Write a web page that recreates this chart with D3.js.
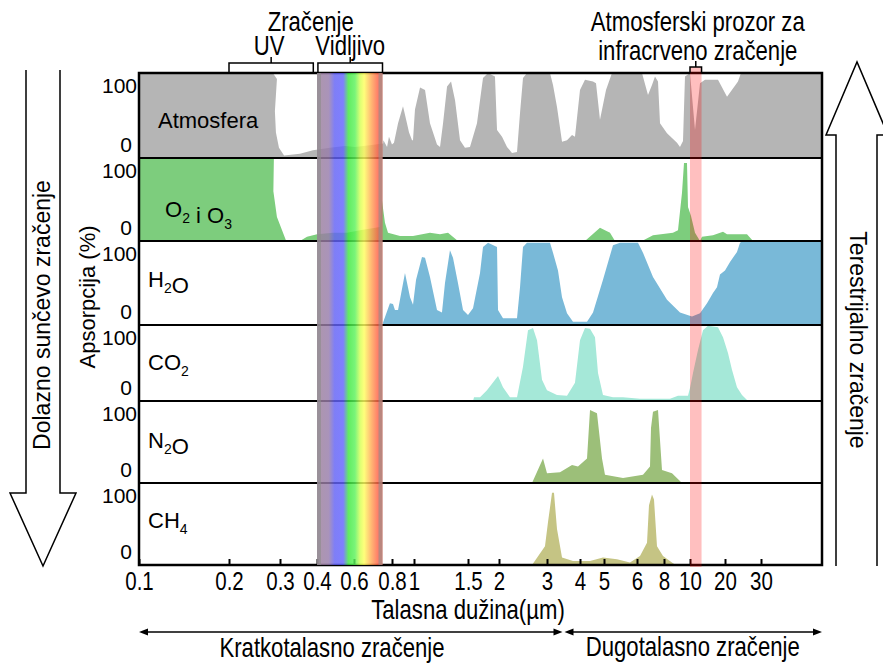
<!DOCTYPE html>
<html lang="sr">
<head>
<meta charset="utf-8">
<title>Apsorpcija zračenja u atmosferi</title>
<script src="https://cdn.jsdelivr.net/npm/d3@7"></script>
<style>
body { margin: 0; background: #fff; }
svg text { font-family: "Liberation Sans", Arial, sans-serif; fill: #000; }
</style>
</head>
<body>
<script>
// x axis ticks (wavelength, µm)
var tickValues = [0.1, 0.2, 0.3, 0.4, 0.6, 0.8, 1, 1.5, 2, 3, 4, 5, 6, 8, 10, 20, 30];
var tickLabels = ["0.1", "0.2", "0.3", "0.4", "0.6", "0.8", "1", "1.5", "2", "3", "4", "5", "6", "8", "10", "20", "30"];
var axisEnd = 70;

// panels (names, "_" marks a subscript digit)
var gasNames = ["Atmosfera", "O_2 i O_3", "H_2O", "CO_2", "N_2O", "CH_4"];
var gasColors = ["#b5b5b5", "#7dcd7d", "#79b9d8", "#a5e8d8", "#9cbf79", "#c5c484"];

// absorption (%) vs wavelength (µm)
var atmosferaWl = [0.1, 0.286, 0.294, 0.29, 0.292, 0.298, 0.311, 0.354, 0.389, 0.47, 0.551, 0.605, 0.684, 0.753,
  0.755, 0.774, 0.784, 0.8, 0.818, 0.855, 0.9, 0.936, 0.955, 0.982, 0.991, 1.009, 1.056, 1.102, 1.148, 1.213,
  1.241, 1.269, 1.306, 1.343, 1.38, 1.426, 1.472, 1.532, 1.645, 1.694, 1.742, 1.823, 1.935, 1.968, 2.063, 2.167,
  2.271, 2.375, 2.438, 2.5, 2.583, 3.091, 3.182, 3.303, 3.455, 3.606, 3.758, 3.848, 4.0, 4.208, 4.542, 4.667,
  4.833, 5.061, 5.242, 6.222, 6.37, 6.815, 7.111, 7.333, 7.556, 7.704, 8.231, 9.0, 9.231, 9.462, 9.615, 10.0,
  11.43, 12.86, 14.29, 18.0, 20.56, 23.61, 24.44, 70];
var atmosferaAbs = [100, 100, 93, 55, 30, 12, 3, 5, 9, 12, 14, 13, 15, 17,
  21, 13, 25, 16, 18, 41, 61, 41, 30, 21, 21, 57, 83, 80, 41, 16,
  13, 41, 84, 90, 68, 21, 12, 13, 41, 68, 94, 100, 96, 33, 25, 13,
  6, 7, 53, 94, 100, 100, 86, 60, 19, 21, 27, 25, 80, 92, 90, 88,
  45, 80, 100, 100, 100, 74, 86, 96, 90, 41, 29, 18, 13, 20, 96, 100,
  33, 88, 92, 92, 72, 90, 100, 100];

var oksigenWl = [0.1, 0.288, 0.287, 0.294, 0.316, 0.354, 0.373, 0.4, 0.486, 0.562, 0.632, 0.737, 0.747, 0.763,
  0.779, 0.873, 0.991, 1.148, 1.241, 1.315, 1.407, 4.208, 4.833, 5.182, 5.333, 6.37, 7.185, 8.692, 9.077,
  9.385, 9.538, 9.769, 9.846, 10.29, 11.43, 12.86, 13.43, 16.57, 19.43, 20.56, 26.11, 27.78];
var oksigenAbs = [100, 100, 60, 29, 1, 0, 5, 8, 10, 10, 13, 17, 49, 22,
  10, 6, 6, 10, 8, 10, 0, 0, 16, 10, 0, 0, 7, 10, 13,
  58, 94, 94, 41, 30, 10, 0, 5, 7, 11, 8, 8, 0];

var vodaWl = [0.753, 0.789, 0.809, 0.827, 0.855, 0.918, 0.964, 0.982, 0.991, 1.019, 1.074, 1.102, 1.148, 1.213,
  1.259, 1.287, 1.333, 1.361, 1.407, 1.454, 1.5, 1.581, 1.694, 1.742, 1.823, 1.968, 1.984, 2.083, 2.375, 2.438,
  2.5, 2.583, 3.091, 3.182, 3.333, 3.455, 3.606, 3.788, 4.292, 4.542, 4.958, 5.273, 5.485, 6.074, 6.444, 7.185,
  8.231, 9.231, 10.57, 12.86, 14.86, 16.57, 17.71, 18.57, 20.0, 21.39, 23.33, 24.17, 25.0, 70];
var vodaAbs = [3, 26, 25, 18, 18, 62, 33, 27, 24, 54, 81, 80, 57, 18,
  15, 50, 89, 80, 50, 18, 12, 20, 62, 93, 98, 93, 18, 8, 8, 45,
  93, 98, 98, 86, 65, 33, 14, 4, 4, 15, 54, 95, 98, 98, 86, 57,
  30, 15, 10, 14, 26, 38, 45, 60, 65, 75, 87, 98, 100, 100];

var ugljenDioksidWl = [1.581, 1.597, 1.694, 1.806, 1.984, 2.083, 2.229, 2.375, 2.5, 2.604, 2.708, 2.792, 2.896,
  3.0, 3.303, 3.606, 3.848, 4.0, 4.208, 4.417, 4.625, 4.75, 4.958, 5.273, 5.576, 6.222, 8.462, 9.077, 9.846,
  10.0, 10.86, 12.29, 13.71, 15.14, 18.0, 19.43, 20.83, 21.94, 23.33, 24.72, 26.39];
var ugljenDioksidAbs = [0, 5, 5, 14, 33, 18, 5, 5, 45, 93, 96, 80, 28,
  14, 8, 7, 24, 80, 96, 95, 84, 37, 8, 5, 5, 3, 3, 7, 7,
  17, 37, 67, 93, 99, 97, 84, 63, 41, 18, 8, 0];

var azotOksidWl = [2.688, 2.917, 3.0, 3.394, 3.758, 3.939, 4.292, 4.417, 4.708, 4.917, 5.03, 5.576, 6.444,
  6.963, 7.037, 7.185, 7.556, 7.852, 8.615, 9.385];
var azotOksidAbs = [0, 30, 12, 13, 22, 20, 30, 89, 85, 30, 10, 6, 10,
  20, 67, 87, 89, 16, 12, 0];

var metanWl = [2.688, 2.958, 3.03, 3.152, 3.212, 3.303, 3.455, 3.788, 4.417, 4.958, 5.394, 5.788, 6.222,
  6.741, 6.889, 7.111, 7.259, 7.481, 7.926, 8.692, 8.923];
var metanAbs = [0, 23, 52, 88, 88, 44, 9, 5, 5, 9, 7, 3, 11,
  27, 73, 86, 80, 23, 11, 2, 0];

// marked wavelength ranges (µm)
var uvRange = [0.2, 0.39];
var visibleRange = [0.405, 0.75];
var irWindow = [10, 13.3];
var waveSplit = 3.5;

var w = 883, h = 664;
var plotLeft = 139, plotRight = 822;
var panelEdges = [73, 158, 241, 325, 401, 483, 565];
var narrow = 0.82;   // no condensed font installed, so squeeze Liberation Sans

var svg = d3.select("body").append("svg")
  .attr("width", w)
  .attr("height", h);

// the printed axis is not a clean log axis, so the scale is calibrated tick by tick
var x = d3.scaleLinear()
  .domain(tickValues.concat([axisEnd]))
  .range([139, 229, 280, 317, 354, 392, 414, 468, 499, 547, 580, 604, 637, 664, 690, 725, 761, 822]);

var series = [
  [atmosferaWl, atmosferaAbs],
  [oksigenWl, oksigenAbs],
  [vodaWl, vodaAbs],
  [ugljenDioksidWl, ugljenDioksidAbs],
  [azotOksidWl, azotOksidAbs],
  [metanWl, metanAbs]
];

var defs = svg.append("defs");

series.forEach(function(s, i) {
  var y = d3.scaleLinear().domain([0, 100]).range([panelEdges[i + 1], panelEdges[i]]);
  var pts = s[0].map(function(v, j) { return { w: v, a: s[1][j] }; });

  defs.append("clipPath").attr("id", "clip" + i)
    .append("rect")
    .attr("x", plotLeft).attr("y", panelEdges[i])
    .attr("width", plotRight - plotLeft).attr("height", panelEdges[i + 1] - panelEdges[i]);

  var area = d3.area()
    .x(function(d) { return x(d.w); })
    .y0(y(0))
    .y1(function(d) { return y(d.a); });

  svg.append("path")
    .datum(pts)
    .attr("clip-path", "url(#clip" + i + ")")
    .attr("d", area)
    .attr("fill", gasColors[i]);

  // 100 / 0 labels
  svg.append("text")
    .attr("x", 137).attr("y", y(100) + 20)
    .attr("text-anchor", "end")
    .attr("font-size", "21px")
    .text("100");
  svg.append("text")
    .attr("x", 132).attr("y", y(0) - 6)
    .attr("text-anchor", "end")
    .attr("font-size", "21px")
    .text("0");

  // gas label with subscripts
  var lx = i == 0 ? 158 : (i == 1 ? 165 : 148);
  var ly = [128, 217, 287, 370, 448, 528][i];
  var label = svg.append("text")
    .attr("x", lx).attr("y", ly)
    .attr("font-size", "22px");
  gasNames[i].split(/(_\d)/).forEach(function(part) {
    if (part === "") return;
    if (part.charAt(0) == "_") {
      label.append("tspan").attr("font-size", "14px").attr("dy", 6).text(part.charAt(1));
      label.append("tspan").attr("dy", -6).text("");
    } else {
      label.append("tspan").text(part);
    }
  });
});

// panel dividers and frame
svg.selectAll("line.divider")
  .data(panelEdges.slice(1, -1))
  .enter()
  .append("line")
  .attr("class", "divider")
  .attr("x1", plotLeft).attr("x2", plotRight)
  .attr("y1", function(d) { return d; })
  .attr("y2", function(d) { return d; })
  .attr("stroke", "#000")
  .attr("stroke-width", 2);

svg.append("rect")
  .attr("x", plotLeft).attr("y", panelEdges[0])
  .attr("width", plotRight - plotLeft)
  .attr("height", panelEdges[6] - panelEdges[0])
  .attr("fill", "none")
  .attr("stroke", "#000")
  .attr("stroke-width", 2.5);

// bottom axis, ticks pointing up into the plot
var xAxis = d3.axisBottom(x)
  .tickValues(tickValues)
  .tickFormat(function(d, i) { return tickLabels[i]; })
  .tickSize(-6)
  .tickPadding(7);

var axisG = svg.append("g")
  .attr("transform", "translate(0," + panelEdges[6] + ")")
  .call(xAxis);
axisG.select(".domain").remove();
axisG.selectAll(".tick line").attr("stroke", "#000").attr("stroke-width", 2);
axisG.selectAll(".tick text")
  .attr("font-size", "25px")
  .attr("transform", "scale(" + narrow + ",1)")
  .attr("fill", "#000");

// visible light band
var grad = defs.append("linearGradient").attr("id", "spectrum")
  .attr("x1", "0").attr("x2", "1").attr("y1", "0").attr("y2", "0");
[[0, "#9c8099"], [0.18, "#977cab"], [0.27, "#6262f5"], [0.4, "#6363ff"], [0.48, "#3fe83f"],
 [0.58, "#5cf25c"], [0.66, "#d6ff55"], [0.72, "#ffff5e"], [0.83, "#ffa855"], [0.93, "#ff6248"], [1, "#ff6248"]]
  .forEach(function(s) {
    grad.append("stop").attr("offset", s[0]).attr("stop-color", s[1]);
  });

svg.append("rect")
  .attr("x", x(0.4)).attr("y", panelEdges[0])
  .attr("width", x(0.75) - x(0.4))
  .attr("height", panelEdges[6] - panelEdges[0])
  .attr("fill", "url(#spectrum)")
  .attr("opacity", 0.82);
[0.4, 0.75].forEach(function(v, i) {
  svg.append("rect")
    .attr("x", i == 0 ? x(v) : x(v) - 4).attr("y", panelEdges[0])
    .attr("width", 4)
    .attr("height", panelEdges[6] - panelEdges[0])
    .attr("fill", "#8c8c8c")
    .attr("opacity", 0.6);
});

// infrared window band
svg.append("rect")
  .attr("x", x(irWindow[0])).attr("y", 67)
  .attr("width", x(irWindow[1]) - x(irWindow[0]))
  .attr("height", panelEdges[6] - 67 + 2)
  .attr("fill", "#ff0000")
  .attr("opacity", 0.25);

// brackets above the plot
function bracket(r, top, stemTop) {
  var x0 = x(r[0]), x1 = x(r[1]), xm = (x0 + x1) / 2;
  svg.append("path")
    .attr("d", "M" + x0 + "," + panelEdges[0] + "V" + top + "H" + x1 + "V" + panelEdges[0] +
      "M" + xm + "," + top + "V" + stemTop)
    .attr("fill", "none")
    .attr("stroke", "#000")
    .attr("stroke-width", 1.5);
  return xm;
}
var uvMid = bracket(uvRange, 63, 57);
var visMid = bracket(visibleRange, 63, 57);
var irMid = bracket(irWindow, 67, 61);

function note(txt, tx, ty, size) {
  svg.append("text")
    .attr("transform", "translate(" + tx + "," + ty + ") scale(" + narrow + ",1)")
    .attr("text-anchor", "middle")
    .attr("font-size", size)
    .text(txt);
}
note("Zračenje", (uvMid + visMid) / 2, 31, "27px");
note("UV", uvMid - 2, 55, "27px");
note("Vidljivo", visMid, 55, "27px");
note("Atmosferski prozor za", irMid + 2, 31, "27px");
note("infracrveno zračenje", irMid + 2, 60, "27px");
note("Talasna dužina(µm)", 468, 619, "27px");
note("Kratkotalasno zračenje", 332, 657, "27px");
note("Dugotalasno zračenje", (x(waveSplit) + x(axisEnd)) / 2, 656, "27px");

// short-wave / long-wave double arrows
function dblArrow(a, b, yy) {
  svg.append("line")
    .attr("x1", a + 4).attr("x2", b - 4)
    .attr("y1", yy).attr("y2", yy)
    .attr("stroke", "#000").attr("stroke-width", 1.5);
  svg.append("path")
    .attr("d", "M" + a + "," + yy + "l9,-3.5v7z M" + b + "," + yy + "l-9,-3.5v7z")
    .attr("fill", "#000");
}
dblArrow(x(0.1), x(waveSplit) - 1, 632);
dblArrow(x(waveSplit) + 1, x(axisEnd), 632);

// y axis title
svg.append("text")
  .attr("transform", "translate(95,297) rotate(-90)")
  .attr("text-anchor", "middle")
  .attr("font-size", "22px")
  .text("Apsorpcija (%)");

// hollow arrows at the sides
svg.append("path")
  .attr("d", "M26,70V493H10L43,566L76,493H60V70")
  .attr("fill", "none").attr("stroke", "#000").attr("stroke-width", 1.5);
svg.append("text")
  .attr("transform", "translate(50,315) rotate(-90)")
  .attr("text-anchor", "middle")
  .attr("font-size", "23px")
  .text("Dolazno sunčevo zračenje");

svg.append("path")
  .attr("d", "M836,566V135H826L857,62L888,135H877V566")
  .attr("fill", "none").attr("stroke", "#000").attr("stroke-width", 1.5);
svg.append("text")
  .attr("transform", "translate(850,340) rotate(90)")
  .attr("text-anchor", "middle")
  .attr("font-size", "23px")
  .text("Terestrijalno zračenje");
</script>
</body>
</html>
